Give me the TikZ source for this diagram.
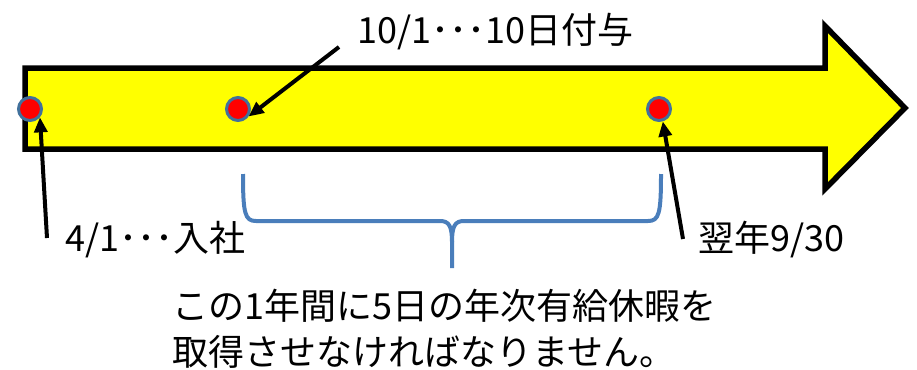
\documentclass[tikz,border=0pt]{standalone}
\usepackage{fontspec}
\setmainfont{Noto Sans CJK JP}
\usetikzlibrary{arrows.meta}
\definecolor{bandyellow}{RGB}{255,255,0}
\definecolor{dotrim}{RGB}{65,113,156}
\definecolor{bracecol}{RGB}{74,126,187}
\tikzset{
  day/.style={circle, fill=red, draw=dotrim, line width=3pt, minimum size=23pt, inner sep=0pt},
  pointer/.style={-{Triangle[length=15pt,width=13pt]}, line width=4pt},
  jtext/.style={font=\fontsize{36}{40}\selectfont, inner sep=0pt, anchor=base west}
}
\begin{document}
\begin{tikzpicture}[x=1pt, y=-1pt]
            \useasboundingbox (0,0) rectangle (917,369);
            \draw[fill=bandyellow, line width=5.5pt, line join=miter] (25,68) -- (825,68) -- (825,26) -- (905,108) -- (825,189) -- (825,149) -- (25,149) -- cycle;

            \node[day] (hire) at (30,109) {};
            \node[day] (grant) at (238,109) {};
            \node[day] (yearend) at (659,109) {};

            \node[jtext] (granttxt) at (357,44) {10/1･･･10日付与};
            \node[jtext] (hiretxt) at (65,251) {4/1･･･入社};
            \node[jtext] (endtxt) at (698,251) {翌年9/30};
            \node[jtext] (msgA) at (172,319) {この1年間に5日の年次有給休暇を};
            \node[jtext] (msgB) at (172,365) {取得させなければなりません。};

            \coordinate (hiretail) at (47,238);
            \coordinate (granttail) at (339,47);
            \coordinate (endtail) at (683,239);
            \draw[pointer] (hiretail) -- (hire.-40);
            \draw[pointer] (granttail) -- (grant.-35);
            \draw[pointer] (endtail) -- (yearend.-73);

            \draw[bracecol, line width=4pt] (243,174) .. controls (243,214) and (245,221) .. (256,221) -- (440,221) .. controls (449,221) and (452,226) .. (452,242) -- (452,268);
            \draw[bracecol, line width=4pt] (661,174) .. controls (661,214) and (659,221) .. (648,221) -- (464,221) .. controls (455,221) and (452,226) .. (452,242);
\end{tikzpicture}
\end{document}
